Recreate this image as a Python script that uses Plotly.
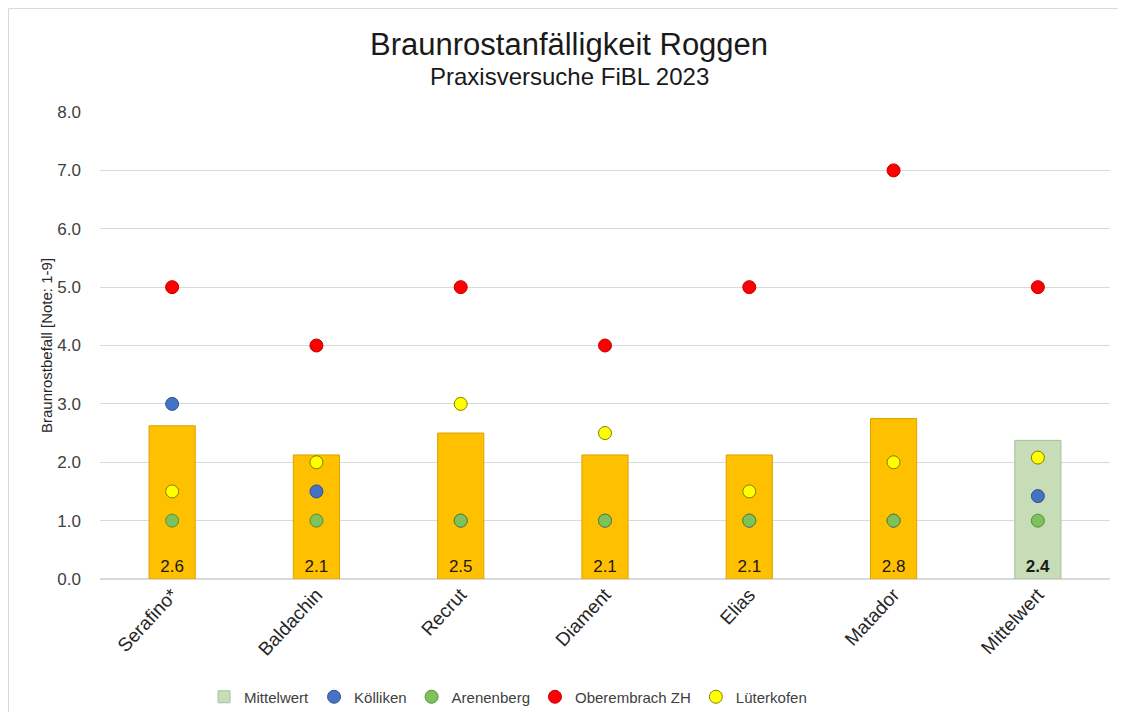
import plotly.graph_objects as go

sorten = ['Serafino*', 'Baldachin', 'Recrut', 'Diament', 'Elias', 'Matador']
mittel_label = 'Mittelwert'
sorten_mittel = [2.625, 2.125, 2.5, 2.125, 2.125, 2.75]
gesamt_mittel = [2.375]

alle = sorten + [mittel_label]
koelliken = [3.0, 1.5, 1.0, 1.0, 1.0, 1.0, 1.42]
arenenberg = [1.0, 1.0, 1.0, 1.0, 1.0, 1.0, 1.0]
oberembrach = [5.0, 4.0, 5.0, 4.0, 5.0, 7.0, 5.0]
lueterkofen = [1.5, 2.0, 3.0, 2.5, 1.5, 2.0, 2.08]

FONT = 'Liberation Sans, Arial, sans-serif'

fig = go.Figure()

fig.add_trace(go.Bar(
    x=sorten, y=sorten_mittel, width=0.32, showlegend=False,
    marker=dict(color='#FFC000', line=dict(color='#D9A300', width=1)),
    texttemplate='%{y:.1f}', textposition='inside', insidetextanchor='start',
    textfont=dict(size=17, color='#1a1a1a'), hoverinfo='skip'))
fig.add_trace(go.Bar(
    x=[mittel_label], y=gesamt_mittel, width=0.32, name='Mittelwert',
    marker=dict(color='#C6DDB8', line=dict(color='#A9BFA0', width=1)),
    texttemplate='<b>%{y:.1f}</b>', textposition='inside', insidetextanchor='start',
    textfont=dict(size=17, color='#1a1a1a'), hoverinfo='skip'))

punkte = [
    ('Kölliken', koelliken, '#4472C4', '#2F528F'),
    ('Arenenberg', arenenberg, '#7DC35A', '#5A8A3C'),
    ('Oberembrach ZH', oberembrach, '#FF0000', '#C00000'),
    ('Lüterkofen', lueterkofen, '#FFFF00', '#7F7F00'),
]
for name, werte, farbe, rand in punkte:
    fig.add_trace(go.Scatter(
        x=alle, y=werte, mode='markers', name=name,
        marker=dict(size=13, color=farbe, line=dict(color=rand, width=1))))

# page has an 8px body margin, so the figure is 1110x704 inside a 1126x720 window
fig.update_layout(
    width=1110, height=704,
    paper_bgcolor='white', plot_bgcolor='white',
    font=dict(family=FONT, color='#262626'),
    margin=dict(l=92, r=8, t=104, b=133),
    barmode='overlay',
    showlegend=True,
    legend=dict(orientation='h', xref='paper', x=0.404, xanchor='center',
                yref='container', y=0.0213, yanchor='middle',
                font=dict(size=15, color='#404040'), traceorder='normal',
                itemwidth=30),
    annotations=[
        dict(text='Braunrostanfälligkeit Roggen', xref='paper', yref='paper',
             x=0.4644, y=1.1435, xanchor='center', yanchor='middle', showarrow=False,
             font=dict(size=31, color='#1a1a1a')),
        dict(text='Praxisversuche FiBL 2023', xref='paper', yref='paper',
             x=0.4644, y=1.077, xanchor='center', yanchor='middle', showarrow=False,
             font=dict(size=24, color='#1a1a1a')),
    ],
    shapes=[dict(type='rect', xref='paper', yref='paper',
                 x0=-0.0906, x1=1.05, y0=-0.2987, y1=1.2216,
                 line=dict(color='#D9D9D9', width=1))],
)
fig.update_xaxes(tickangle=-47, tickfont=dict(size=19, color='#262626'),
                 showline=False, showgrid=False, ticks='', automargin=False)
fig.update_yaxes(range=[0, 8], dtick=1, tickformat='.1f',
                 tickfont=dict(size=17, color='#404040'), ticklabelstandoff=18,
                 gridcolor='#D9D9D9', zerolinecolor='#D9D9D9',
                 title=dict(text='Braunrostbefall [Note: 1-9]', font=dict(size=15, color='#262626'),
                            standoff=1),
                 ticks='', automargin=False)

fig.write_html('out.html')
